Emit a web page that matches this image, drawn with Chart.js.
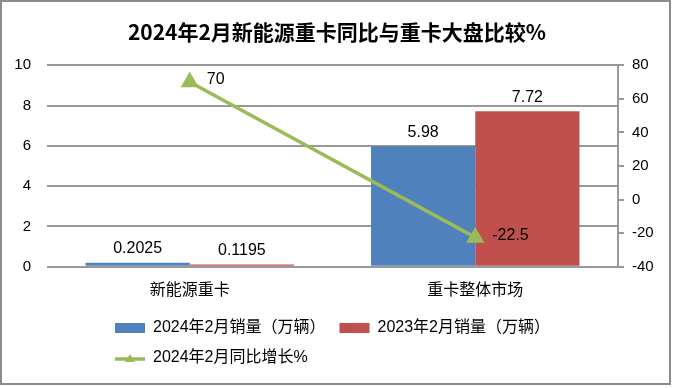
<!DOCTYPE html>
<html>
<head>
<meta charset="utf-8">
<script src="https://cdn.jsdelivr.net/npm/chart.js@4/dist/chart.umd.min.js"></script>
<style>
    html, body { margin: 0; padding: 0; background: #fff; }
    #wrap { position: relative; width: 674px; height: 388px; }
    #frame { position: absolute; left: 0; top: 0; width: 671px; height: 385px; border: 2px solid #8c8c8c; box-sizing: border-box; pointer-events: none; }
</style>
</head>
<body>
<div id="wrap">
    <canvas id="myChart" width="674" height="388"></canvas>
    <div id="frame"></div>
</div>
<script>
var categories = ['新能源重卡', '重卡整体市场'];
var sales2024 = [0.2025, 5.98];
var sales2023 = [0.1195, 7.72];
var growth = [70, -22.5];
var seriesNames = ['2024年2月销量（万辆）', '2023年2月销量（万辆）', '2024年2月同比增长%'];

var FONT = "'Liberation Sans', 'Noto Sans CJK SC', sans-serif";
var BLUE = '#4F81BD';
var RED = '#C0504D';
var GREEN = '#9BBB59';

// legend icon for the line series: a short line with a triangle on it
function lineIcon() {
    var c = document.createElement('canvas');
    c.width = 30;
    c.height = 12;
    var g = c.getContext('2d');
    g.strokeStyle = GREEN;
    g.lineWidth = 3.5;
    g.beginPath();
    g.moveTo(0, 7);
    g.lineTo(30, 7);
    g.stroke();
    g.fillStyle = GREEN;
    g.beginPath();
    g.moveTo(15, 2);
    g.lineTo(20, 10);
    g.lineTo(10, 10);
    g.closePath();
    g.fill();
    return c;
}

// draws the value labels above bars and beside line points
var valueLabels = {
    id: 'valueLabels',
    afterDatasetsDraw: function (chart) {
        var c = chart.ctx;
        c.save();
        c.font = '16px ' + FONT;
        c.fillStyle = '#000';
        chart.data.datasets.forEach(function (ds, i) {
            var meta = chart.getDatasetMeta(i);
            meta.data.forEach(function (el, j) {
                var v = ds.data[j];
                if (ds.type === 'line') {
                    c.textAlign = 'left';
                    c.textBaseline = 'middle';
                    c.fillText(String(v), el.x + 17, el.y - 2);
                } else {
                    c.textAlign = 'center';
                    c.textBaseline = 'bottom';
                    c.fillText(String(v), el.x, el.y - 6);
                }
            });
        });
        c.restore();
    }
};

// legend wraps into two rows and starts at the same left position as the original
var legendShift = {
    id: 'legendShift',
    beforeLayout: function (chart) {
        var lg = chart.legend;
        if (lg && !lg._narrow) {
            var orig = lg.update;
            lg.update = function (mw, mh, margins) {
                return orig.call(this, Math.min(mw, 470), mh, margins);
            };
            lg._narrow = true;
        }
    },
    afterLayout: function (chart) {
        chart.legend.left = 101;
    }
};

var ctx = document.getElementById('myChart');
var myChart = new Chart(ctx, {
    type: 'bar',
    data: {
        labels: categories,
        datasets: [{
            type: 'line',
            label: seriesNames[2],
            data: growth,
            yAxisID: 'y1',
            borderColor: GREEN,
            backgroundColor: GREEN,
            borderWidth: 3.5,
            pointStyle: 'triangle',
            pointRadius: 7,
            pointBackgroundColor: GREEN,
            pointBorderColor: GREEN,
            order: 0
        }, {
            label: seriesNames[0],
            data: sales2024,
            backgroundColor: BLUE,
            yAxisID: 'y',
            order: 1
        }, {
            label: seriesNames[1],
            data: sales2023,
            backgroundColor: RED,
            yAxisID: 'y',
            order: 1
        }]
    },
    options: {
        responsive: false,
        animation: false,
        layout: { padding: { left: 0, right: 0, top: 0, bottom: 12 } },
        datasets: {
            bar: { categoryPercentage: 0.73, barPercentage: 1.0 }
        },
        plugins: {
            title: {
                display: true,
                text: '2024年2月新能源重卡同比与重卡大盘比较%',
                color: '#000',
                font: { family: "'Noto Sans CJK SC', sans-serif", size: 21, weight: 'bold' },
                padding: { top: 19, bottom: 21 }
            },
            legend: {
                position: 'bottom',
                align: 'start',
                labels: {
                    color: '#000',
                    font: { family: FONT, size: 16 },
                    padding: 14,
                    usePointStyle: true,
                    pointStyleWidth: 30,
                    boxHeight: 10,
                    generateLabels: function (chart) {
                        var ds = chart.data.datasets;
                        return [
                            { text: ds[1].label, fillStyle: BLUE, strokeStyle: BLUE, lineWidth: 0, pointStyle: 'rect', datasetIndex: 1, fontColor: '#000' },
                            { text: ds[2].label, fillStyle: RED, strokeStyle: RED, lineWidth: 0, pointStyle: 'rect', datasetIndex: 2, fontColor: '#000' },
                            { text: ds[0].label, fillStyle: GREEN, strokeStyle: GREEN, lineWidth: 0, pointStyle: lineIcon(), datasetIndex: 0, fontColor: '#000' }
                        ];
                    }
                }
            },
            tooltip: { enabled: false }
        },
        scales: {
            x: {
                grid: { display: false },
                border: { display: false },
                ticks: { color: '#000', font: { family: FONT, size: 16 }, padding: 6 }
            },
            y: {
                position: 'left',
                min: 0,
                max: 10,
                ticks: { stepSize: 2, color: '#000', font: { family: FONT, size: 15 }, padding: 16 },
                grid: { color: '#999', lineWidth: 2, drawTicks: false },
                border: { display: false },
                afterFit: function (s) { s.width = 47; }
            },
            y1: {
                position: 'right',
                min: -40,
                max: 80,
                ticks: { stepSize: 20, color: '#000', font: { family: FONT, size: 15 }, padding: 8 },
                grid: { drawOnChartArea: false, drawTicks: true, tickLength: 6, color: '#999', lineWidth: 2 },
                border: { display: true, color: '#999', width: 2 },
                afterFit: function (s) { s.width = 56; }
            }
        }
    },
    plugins: [valueLabels, legendShift]
});
</script>
</body>
</html>
